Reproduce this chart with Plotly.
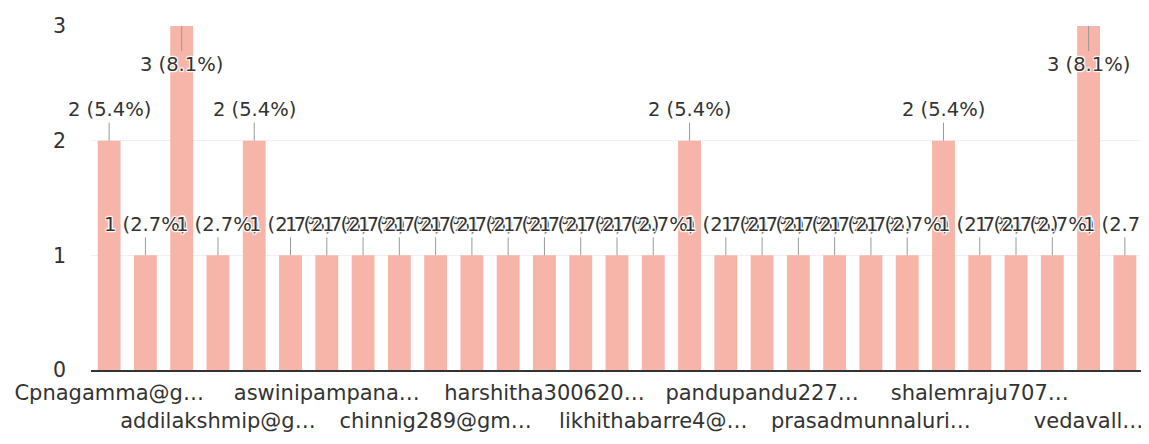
import plotly.graph_objects as go

# ---- data ----
labels = [
    "Cpnagamma@g…", "", "", "addilakshmip@g…", "", "",
    "aswinipampana…", "", "", "chinnig289@gm…", "", "",
    "harshitha300620…", "", "", "likhithabarre4@…", "", "",
    "pandupandu227…", "", "", "prasadmunnaluri…", "", "",
    "shalemraju707…", "", "", "vedavall…", "",
]
counts = [2, 1, 3, 1, 2, 1, 1, 1, 1, 1, 1, 1, 1, 1, 1, 1,
          2, 1, 1, 1, 1, 1, 1, 2, 1, 1, 1, 3, 1]
y_ticks = [0, 1, 2, 3]

total = sum(counts)
xs = list(range(len(counts)))
FONT = "DejaVu Sans"
BAR = "#f7b4a8"
TXT = "#333333"

fig = go.Figure()
fig.add_trace(go.Bar(
    x=xs, y=counts, width=0.63, marker=dict(color=BAR, line=dict(width=0)),
    hoverinfo="skip", showlegend=False,
))

halo = ("1px 1px 1px #fff, -1px -1px 1px #fff, 1px -1px 1px #fff, "
        "-1px 1px 1px #fff, 0 1px 1px #fff, 0 -1px 1px #fff")
ymax = max(y_ticks)
for x, v in zip(xs, counts):
    txt = f"{v} ({100 * v / total:.1f}%)"
    ay = 38 if v >= ymax else -31
    fig.add_annotation(
        x=x, y=v, xref="x", yref="y", text=txt,
        showarrow=True, ax=0, ay=ay, arrowhead=0, arrowwidth=1,
        arrowcolor="#9a9a9a", standoff=0,
        font=dict(family=FONT, size=19.5, color=TXT, shadow=halo),
    )

tickvals = [i for i, l in enumerate(labels) if l]
ticktext = []
for k, i in enumerate(tickvals):
    ticktext.append(labels[i] if k % 2 == 0 else "<br>" + labels[i])

fig.update_layout(
    width=1141, height=436,
    margin=dict(l=78, r=6, t=12, b=74),
    paper_bgcolor="white", plot_bgcolor="white",
    font=dict(family=FONT, color=TXT),
    xaxis=dict(
        range=[-0.5, len(counts) - 0.5], tickmode="array",
        tickvals=tickvals, ticktext=ticktext, tickangle=0,
        showgrid=False, zeroline=False, showline=True,
        linecolor="#333333", linewidth=2, ticks="",
        tickfont=dict(family=FONT, size=21, color=TXT),
        ticklabelstandoff=3,
    ),
    yaxis=dict(
        range=[0, ymax], tickmode="array", tickvals=y_ticks,
        showgrid=True, gridcolor="#f0f0f0", gridwidth=1,
        zeroline=False, showline=False, ticks="",
        tickfont=dict(family=FONT, size=20.5, color=TXT),
        ticklabelstandoff=24,
    ),
)

fig.write_html("out.html")
